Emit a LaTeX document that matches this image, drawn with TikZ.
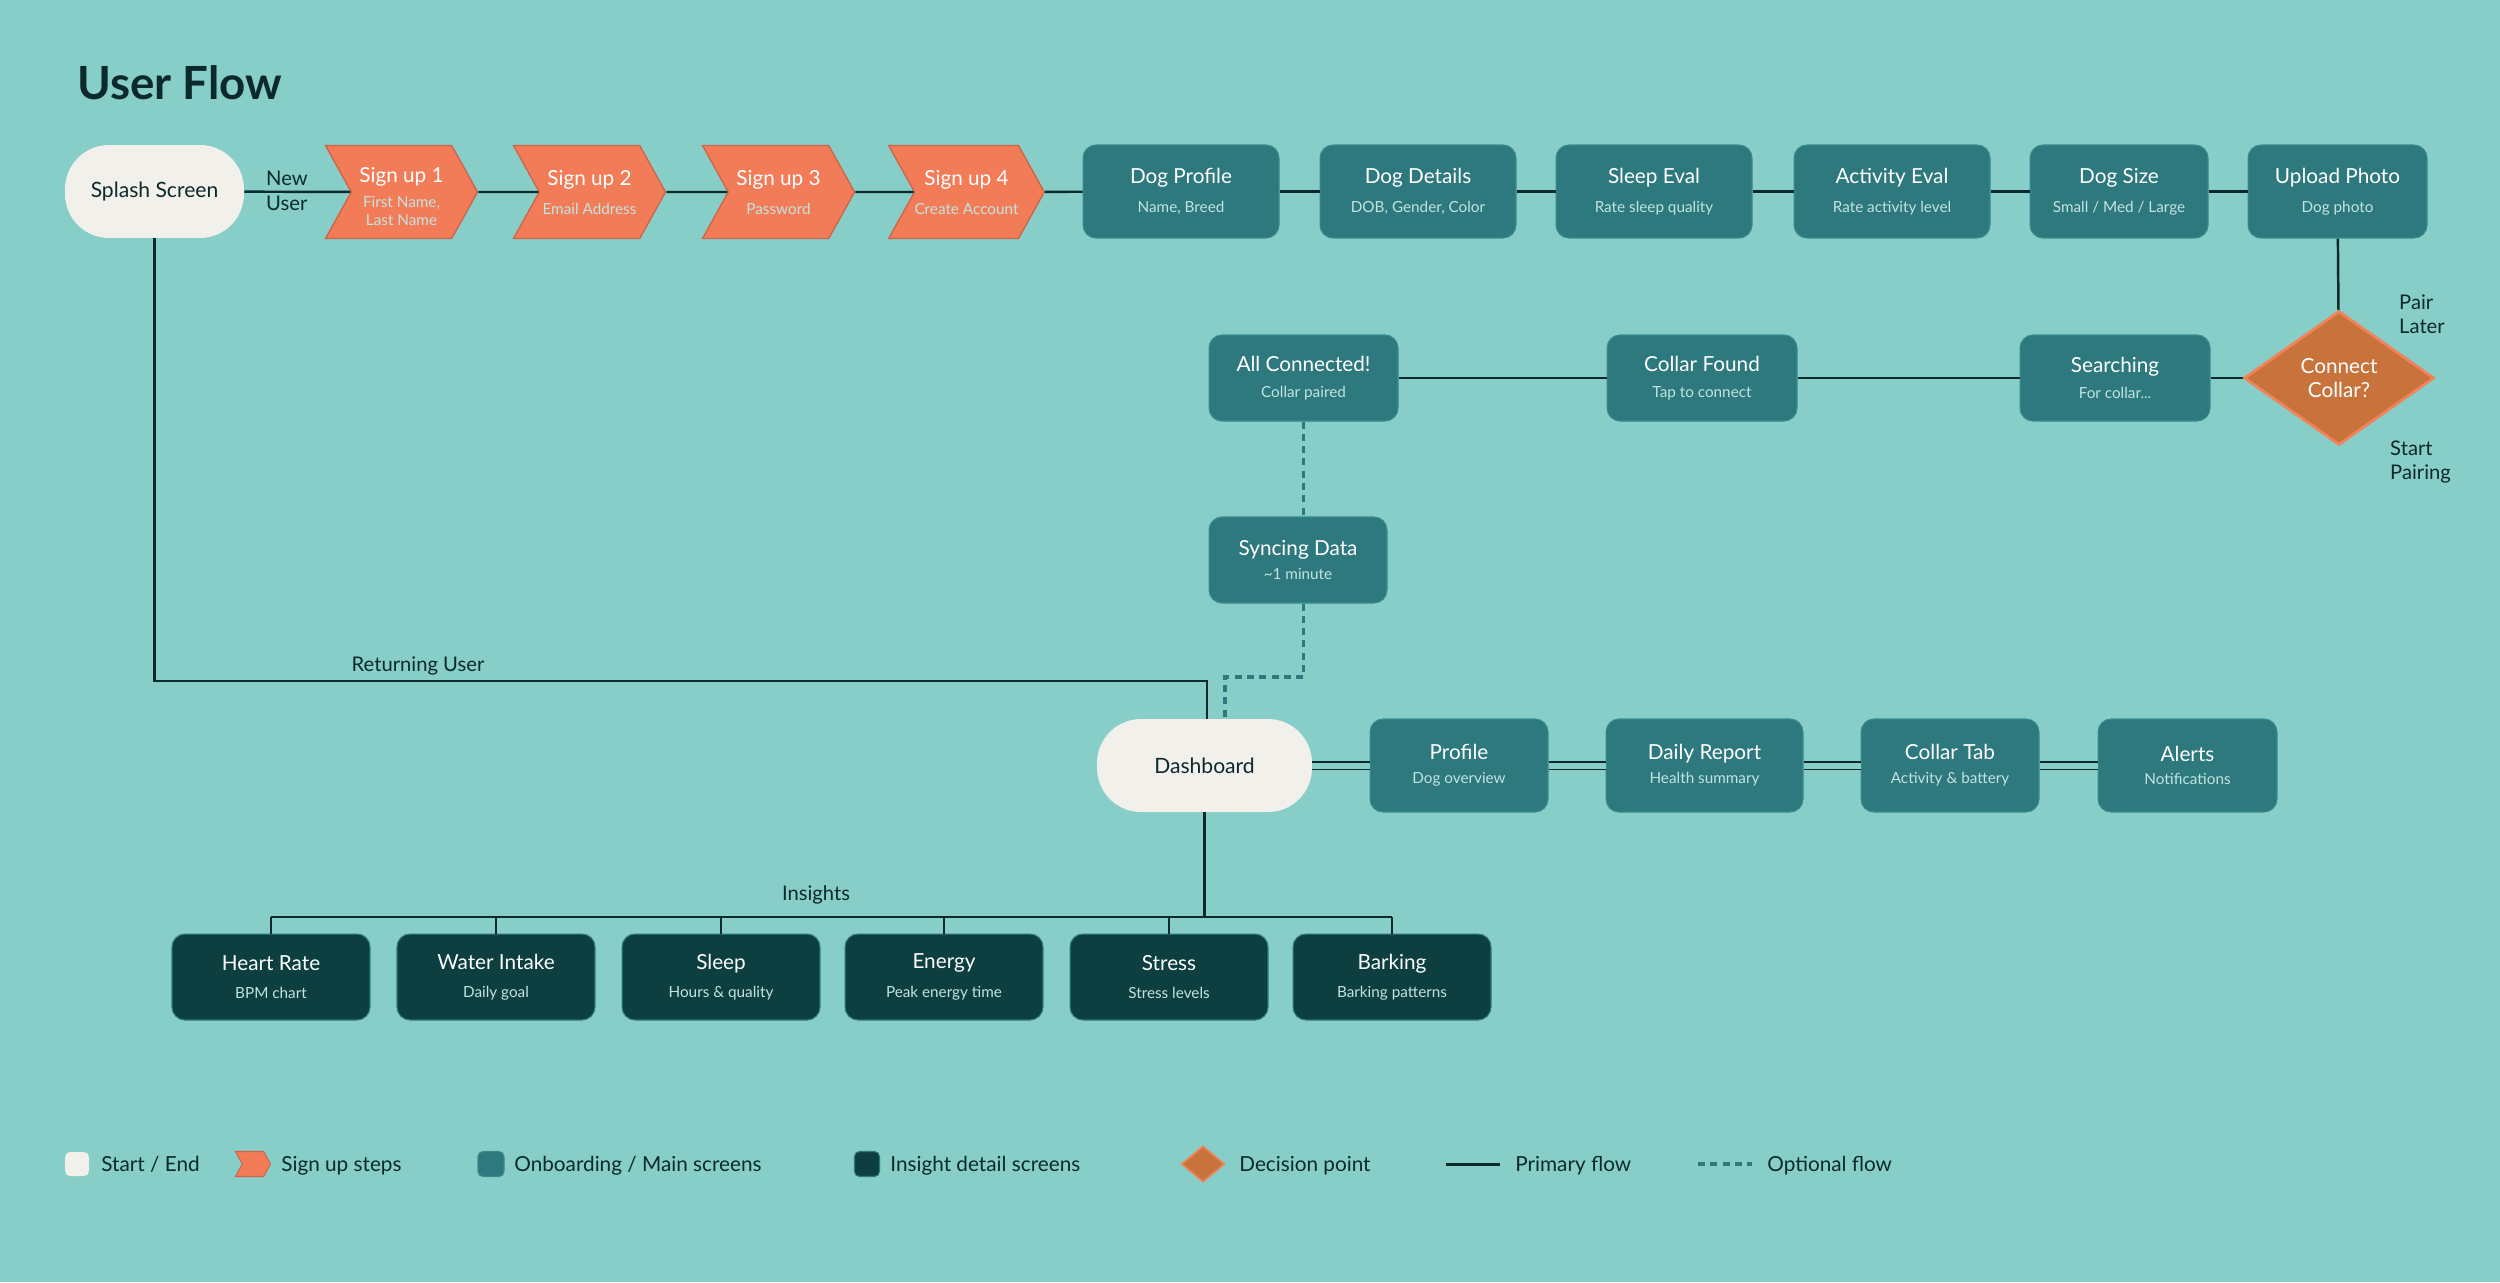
\documentclass[tikz,border=0pt]{standalone}
\usepackage{fontspec}
\setmainfont{Lato}
\usetikzlibrary{shapes.geometric,shapes.symbols,positioning}

\definecolor{bg}{HTML}{86CEC7}
\definecolor{ink}{HTML}{0C2A2C}
\definecolor{tealbox}{HTML}{2D797D}
\definecolor{tealedge}{HTML}{3A8A8D}
\definecolor{darkbox}{HTML}{0D3E40}
\definecolor{cream}{HTML}{F1F0EB}
\definecolor{signfill}{HTML}{F27C58}
\definecolor{signedge}{HTML}{CF654A}
\definecolor{rust}{HTML}{C8733C}
\definecolor{rustedge}{HTML}{F2825A}
\definecolor{subtext}{HTML}{C2E4E1}

\newcommand{\subline}[1]{{\fontsize{8.7}{10}\selectfont\color{subtext}#1}}

\begin{document}
\begin{tikzpicture}[x=0.02cm, y=-0.02cm,
  line/.style={draw=ink, line width=1.4pt},
  optional/.style={draw=tealbox, line width=2pt, dash pattern=on 4pt off 3pt},
  dbl/.style={draw=ink, line width=1.1pt, double=bg, double distance=3.4pt},
  screen/.style={rectangle, rounded corners=0.26cm, fill=tealbox, draw=tealedge, line width=0.6pt,
    text=white, align=center, minimum width=3.56cm, minimum height=1.86cm, inner sep=0pt,
    font=\fontsize{11.8}{14}\selectfont},
  insight/.style={screen, fill=darkbox, draw=tealbox, minimum width=3.96cm, minimum height=1.72cm},
  terminal/.style={rectangle, rounded corners=0.88cm, fill=cream, text=ink,
    minimum width=3.58cm, minimum height=1.86cm, font=\fontsize{12}{14}\selectfont},
  signup/.style={signal, signal to=east, signal from=west, signal pointer angle=122,
    fill=signfill, draw=signedge, line width=0.8pt, text=white, align=center,
    minimum width=3.04cm, minimum height=1.86cm, inner sep=0pt, font=\fontsize{11.8}{14}\selectfont},
  decision/.style={diamond, aspect=1.42, fill=rust, draw=rustedge, line width=1.6pt,
    text=white, align=center, minimum width=3.8cm, minimum height=2.68cm, inner sep=0pt,
    font=\fontsize{11.8}{14}\selectfont},
  lbl/.style={text=ink, align=left, font=\fontsize{11.5}{14}\selectfont},
  legend/.style={text=ink, anchor=base west, inner xsep=0pt, font=\fontsize{11.8}{14}\selectfont}
]

% Background and page size
\fill[bg] (0,0) rectangle (2500,1282);
\useasboundingbox (0,0) rectangle (2500,1282);

% Title
\node[anchor=west, text=ink, font=\fontsize{26}{30}\selectfont\bfseries] (title) at (71,83) {User Flow};

% Splash and sign up steps
\node[terminal] (splash) at (154.5,191.5) {Splash Screen};
\node[signup] (su1) at (401.5,192) {\rule{0pt}{14pt}Sign up 1\\[0pt]\subline{First Name,}\\[-3.6pt]\subline{Last Name}};
\node[signup] (su2) at (589.5,192) {Sign up 2\\[2.5pt]\subline{Email Address}};
\node[signup] (su3) at (778.5,192) {Sign up 3\\[2.5pt]\subline{Password}};
\node[signup] (su4) at (966.5,192) {Sign up 4\\[2.5pt]\subline{Create Account}};

% Onboarding screens
\node[screen, minimum width=3.92cm] (dprof) at (1181,191.5) {Dog Profile\\[2.5pt]\subline{Name, Breed}};
\node[screen, minimum width=3.92cm] (ddet) at (1418,191.5) {Dog Details\\[2.5pt]\subline{DOB, Gender, Color}};
\node[screen, minimum width=3.92cm] (sleval) at (1654,191.5) {Sleep Eval\\[2.5pt]\subline{Rate sleep quality}};
\node[screen, minimum width=3.92cm] (acteval) at (1892,191.5) {Activity Eval\\[2.5pt]\subline{Rate activity level}};
\node[screen] (dsize) at (2119,191.5) {Dog Size\\[2.5pt]\subline{Small / Med / Large}};
\node[screen, minimum width=3.58cm] (upload) at (2337.5,191.5) {Upload Photo\\[2.5pt]\subline{Dog photo}};

% Collar pairing
\node[decision] (conn) at (2339,378) {Connect\\Collar?};
\node[screen, minimum width=3.8cm, minimum height=1.72cm] (search) at (2115,378) {Searching\\[1pt]\subline{For collar...}};
\node[screen, minimum width=3.8cm, minimum height=1.72cm] (cfound) at (1702,378) {Collar Found\\[1pt]\subline{Tap to connect}};
\node[screen, minimum width=3.78cm, minimum height=1.72cm] (allc) at (1303.5,378) {All Connected!\\[1pt]\subline{Collar paired}};
\node[screen, minimum height=1.72cm] (sync) at (1298,560) {Syncing Data\\[0pt]\subline{\textasciitilde1 minute}};

% Dashboard and main tabs
\node[terminal, minimum width=4.3cm] (dash) at (1204.5,765.5) {Dashboard};
\node[screen] (prof) at (1459,765.5) {Profile\\[-0.5pt]\subline{Dog overview}};
\node[screen, minimum width=3.94cm] (daily) at (1704.5,765.5) {Daily Report\\[-0.5pt]\subline{Health summary}};
\node[screen] (ctab) at (1950,765.5) {Collar Tab\\[-0.5pt]\subline{Activity \& battery}};
\node[screen, minimum width=3.58cm] (alerts) at (2187.5,765.5) {Alerts\\[-0.5pt]\subline{Notifications}};

% Insight screens
\node[insight] (hr) at (271,977) {Heart Rate\\[2pt]\subline{BPM chart}};
\node[insight] (water) at (496,977) {Water Intake\\[2pt]\subline{Daily goal}};
\node[insight] (sleep) at (721,977) {Sleep\\[2pt]\subline{Hours \& quality}};
\node[insight] (energy) at (944,977) {Energy\\[2pt]\subline{Peak energy time}};
\node[insight] (stress) at (1169,977) {Stress\\[2pt]\subline{Stress levels}};
\node[insight] (bark) at (1392,977) {Barking\\[2pt]\subline{Barking patterns}};

% Primary flow
\foreach \a/\b in {splash/su1, su1/su2, su2/su3, su3/su4, su4/dprof, dprof/ddet, ddet/sleval, sleval/acteval, acteval/dsize, dsize/upload, upload/conn, conn/search, search/cfound, cfound/allc}
  \draw[line] (\a) -- (\b);

\coordinate (retbend) at (1207,681);
\draw[line] (splash.south) |- (retbend) -- (retbend |- dash.north);

\foreach \a/\b in {dash/prof, prof/daily, daily/ctab, ctab/alerts}
  \draw[dbl] (\a) -- (\b);

% Insights tree
\coordinate (bar) at (0,917);
\draw[line] (dash.south) -- (dash.south |- bar);
\draw[line] (hr.north |- bar) -- (bark.north |- bar);
\foreach \n in {hr, water, sleep, energy, stress, bark}
  \draw[line, line width=1.1pt] (\n.north |- bar) -- (\n.north);

% Optional flow
\coordinate (syncbend) at (1225,677);
\draw[optional] (allc.south) -- (allc.south |- sync.north);
\draw[optional] (sync.south -| allc) |- (syncbend) -- (syncbend |- dash.north);

% Labels
\node[lbl, anchor=west] (newuser) at (260,191) {New\\User};
\node[lbl, anchor=west] (pairlater) at (2393,314) {Pair\\Later};
\node[lbl, anchor=west] (startpair) at (2384,462) {Start\\Pairing};
\node[lbl] (retuser) at (418,666) {Returning User};
\node[lbl] (insights) at (816,895) {Insights};

% Legend
\node[terminal, minimum width=0.48cm, minimum height=0.48cm, rounded corners=0.1cm] (lgstart) at (77,1164) {};
\node[legend] at (101,1171) {Start / End};
\node[signup, minimum width=0.7cm, minimum height=0.5cm, line width=0.6pt] (lgsign) at (253,1164) {};
\node[legend] at (281,1171) {Sign up steps};
\node[screen, minimum width=0.52cm, minimum height=0.5cm, rounded corners=0.1cm] (lgscreen) at (491,1164) {};
\node[legend] at (514,1171) {Onboarding / Main screens};
\node[insight, minimum width=0.5cm, minimum height=0.5cm, rounded corners=0.1cm] (lginsight) at (867,1164) {};
\node[legend] at (890,1171) {Insight detail screens};
\node[decision, minimum width=0.86cm, minimum height=0.72cm, line width=1pt] (lgdec) at (1203,1164) {};
\node[legend] at (1239,1171) {Decision point};
\draw[line, line width=1.7pt] (1446,1164) -- (1500,1164);
\node[legend] at (1515,1171) {Primary flow};
\draw[optional] (1698,1164) -- (1752,1164);
\node[legend] at (1767,1171) {Optional flow};

\end{tikzpicture}
\end{document}
